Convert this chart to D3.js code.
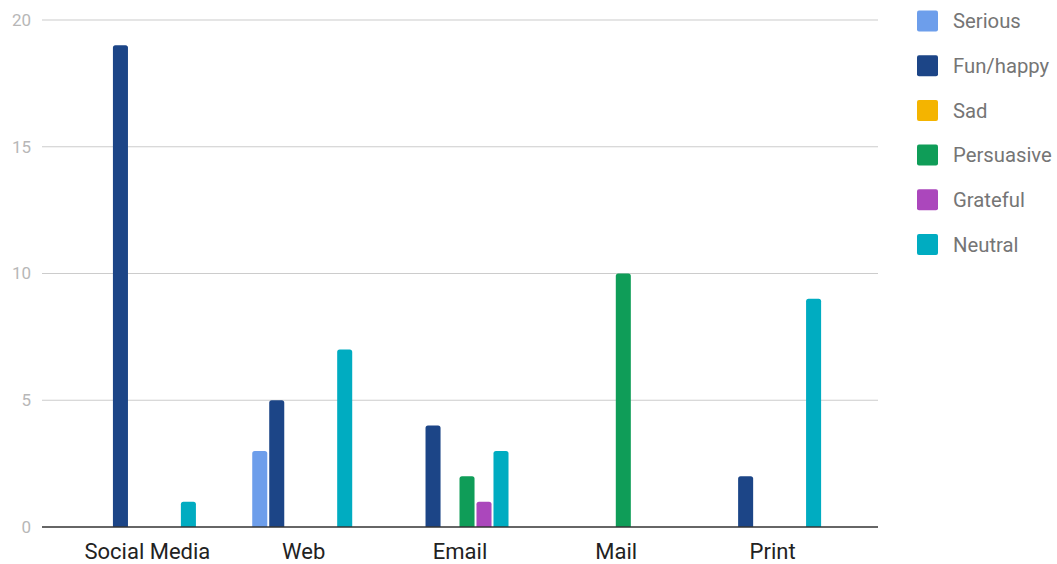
<!DOCTYPE html>
<html><head><meta charset="utf-8">
<script src="https://cdn.jsdelivr.net/npm/d3@7"></script>
<style>html,body{margin:0;padding:0;background:#fff;}svg{display:block;font-family:Roboto,sans-serif;}</style>
</head><body>
<svg id="c" width="1057" height="564"></svg>
<script>
const categories = ["Social Media", "Web", "Email", "Mail", "Print"];
const seriesNames = ["Serious", "Fun/happy", "Sad", "Persuasive", "Grateful", "Neutral"];
const serious    = [0, 3, 0, 0, 0];
const funHappy   = [19, 5, 4, 0, 2];
const sad        = [0, 0, 0, 0, 0];
const persuasive = [0, 0, 2, 10, 0];
const grateful   = [0, 0, 1, 0, 0];
const neutral    = [1, 7, 3, 0, 9];
const colors = ["#6d9eeb", "#1c4587", "#f4b400", "#0f9d58", "#ab47bc", "#00acc1"];
const yTicks = [0, 5, 10, 15, 20];

const seriesValues = [serious, funHappy, sad, persuasive, grateful, neutral];

const svg = d3.select("#c");
const plotLeft = 42, plotRight = 878, plotTop = 20, plotBottom = 527;

const x = d3.scaleBand().domain(categories).range([plotLeft, plotRight]).paddingInner(0).paddingOuter(0.1744);
const xs = d3.scaleBand().domain(seriesNames).range([0, x.bandwidth()]).paddingInner(0).paddingOuter(1.6);
const y = d3.scaleLinear().domain([0, 20]).range([plotBottom, plotTop]);

// gridlines
svg.append("g").selectAll("line").data(yTicks.filter(t => t !== 0)).join("line")
  .attr("x1", plotLeft).attr("x2", plotRight)
  .attr("y1", d => y(d)).attr("y2", d => y(d))
  .attr("stroke", "#cccccc").attr("stroke-width", 1.2);

// y labels
svg.append("g").selectAll("text").data(yTicks).join("text")
  .attr("x", 31).attr("y", d => y(d)).attr("dy", "0.35em")
  .attr("text-anchor", "end").attr("font-size", 17).attr("fill", "#b7b7b7")
  .text(d => d);

// bars
const data = [];
categories.forEach((c, i) => {
  seriesNames.forEach((s, j) => {
    const v = seriesValues[j][i];
    if (v > 0) data.push({c, s, v, color: colors[j]});
  });
});
const bw = xs.bandwidth() * 0.885;
function barPath(d) {
  const x0 = x(d.c) + xs(d.s) - 0.5;
  const x1 = x0 + bw;
  const y0 = y(d.v), yb = y(0);
  const r = 2.5;
  return `M${x0},${yb} L${x0},${y0 + r} Q${x0},${y0} ${x0 + r},${y0} L${x1 - r},${y0} Q${x1},${y0} ${x1},${y0 + r} L${x1},${yb} Z`;
}
svg.append("g").selectAll("path").data(data).join("path")
  .attr("d", barPath).attr("fill", d => d.color);

// baseline
svg.append("line").attr("x1", plotLeft).attr("x2", plotRight).attr("y1", y(0)).attr("y2", y(0))
  .attr("stroke", "#333333").attr("stroke-width", 1.3);

// x labels
svg.append("g").selectAll("text").data(categories).join("text")
  .attr("x", d => x(d) + x.bandwidth() / 2).attr("y", 559)
  .attr("text-anchor", "middle").attr("font-size", 22).attr("fill", "#222222")
  .text(d => d);

// legend
const lg = svg.append("g").selectAll("g").data(seriesNames).join("g")
  .attr("transform", (d, i) => `translate(917, ${21 + i * 44.7})`);
lg.append("rect").attr("x", 0).attr("y", -10.5).attr("width", 21).attr("height", 21).attr("rx", 2)
  .attr("fill", (d, i) => colors[i]);
lg.append("text").attr("x", 36).attr("y", 0).attr("dy", "0.35em")
  .attr("font-size", 20.3).attr("fill", "#757575").text(d => d);
</script>
</body></html>
